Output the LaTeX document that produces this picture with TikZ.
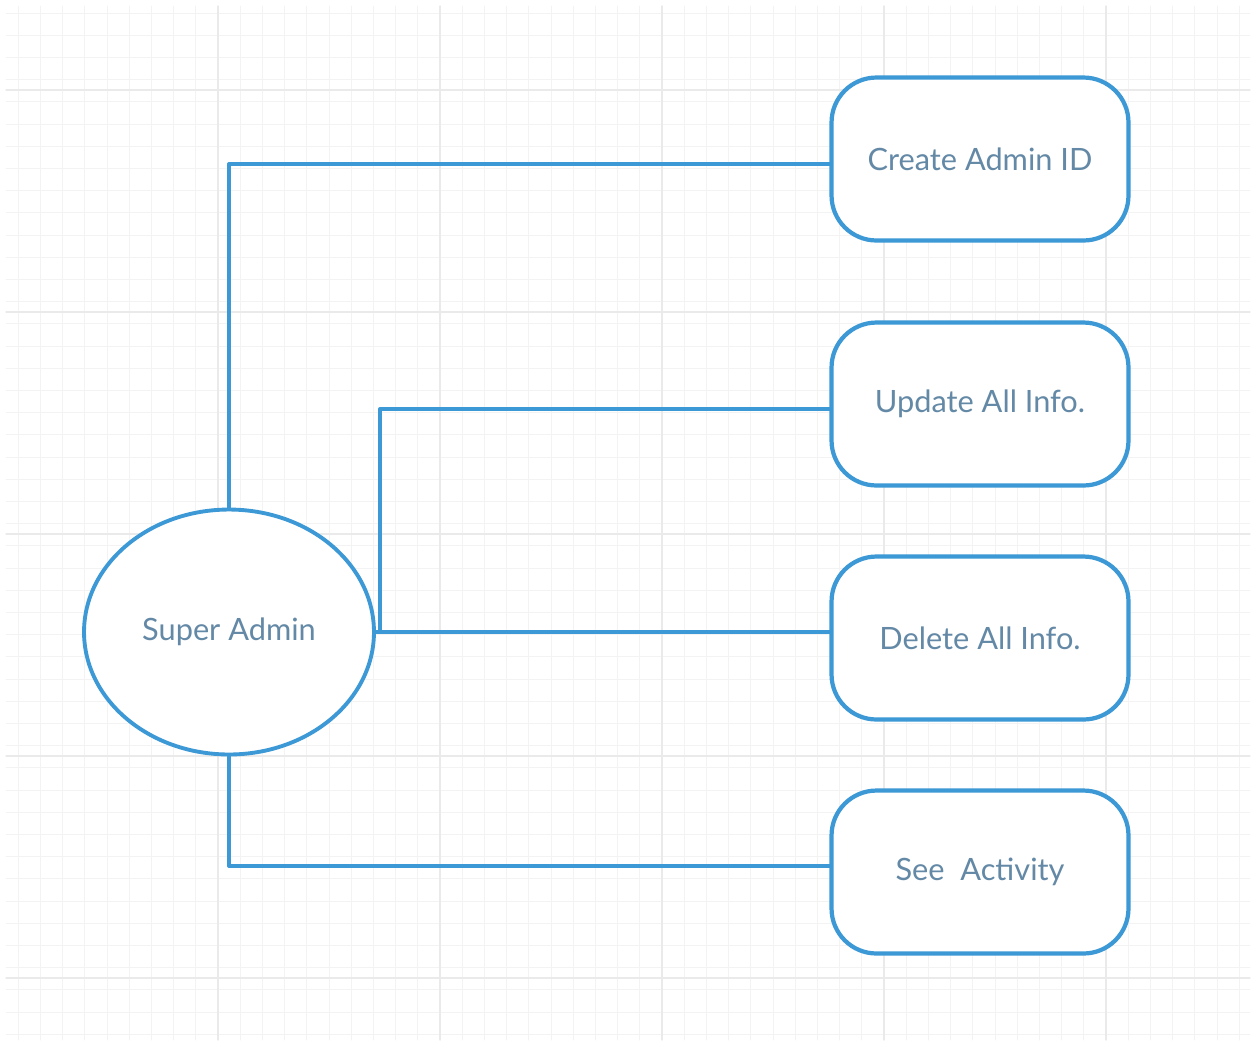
\documentclass[tikz,border=0pt]{standalone}
\usepackage{fontspec}
\setmainfont{Lato}
\usetikzlibrary{shapes.geometric}
\definecolor{lineblue}{HTML}{3D98D6}
\definecolor{textblue}{HTML}{6389A6}
\definecolor{gridminor}{HTML}{F3F3F3}
\definecolor{gridmajor}{HTML}{EAEAEA}
\begin{document}
\begin{tikzpicture}[line cap=round,line join=round,x=0.02cm,y=-0.02cm,
  every node/.style={font=\fontsize{17.5}{21}\selectfont,text=textblue},
  actor/.style={ellipse,draw=lineblue,line width=2.2pt,fill=white,minimum width=5.8cm,minimum height=4.9cm},
  task/.style={rectangle,rounded corners=0.9cm,draw=lineblue,line width=2.4pt,fill=white,minimum width=5.94cm,minimum height=3.26cm},
  link/.style={draw=lineblue,line width=1.9pt}]
\useasboundingbox (0,0) rectangle (1256,1042);
\fill[white] (0,0) rectangle (1256,1042);
% grid
\foreach \i in {0,...,56} \draw[gridminor,line width=0.5pt] (-4+\i*22.2,6)--(-4+\i*22.2,1040);
\foreach \i in {0,...,46} \draw[gridminor,line width=0.5pt] (6,13+\i*22.2)--(1250,13+\i*22.2);
\foreach \i in {1,...,5} \draw[gridmajor,line width=0.6pt] (-4+\i*222,6)--(-4+\i*222,1040);
\foreach \i in {0,...,4} \draw[gridmajor,line width=0.6pt] (6,90+\i*222)--(1250,90+\i*222);
\node[actor] (sa) at (229,632) {Super Admin};
\node[task] (cr) at (980,159) {Create Admin ID};
\node[task] (up) at (980,404) {Update All Info.};
\node[task] (de) at (980,638) {Delete All Info.};
\node[task] (se) at (980,872) {See~ Activity};
\coordinate (jn) at (380,632);
\draw[link] (sa.north) |- ([yshift=-5*0.02cm]cr.west);
\draw[link] (jn) |- ([yshift=-5*0.02cm]up.west);
\draw[link] (sa.east) -- (sa.east -| de.west);
\draw[link] (sa.south) |- ([yshift=6*0.02cm]se.west);
\end{tikzpicture}
\end{document}
